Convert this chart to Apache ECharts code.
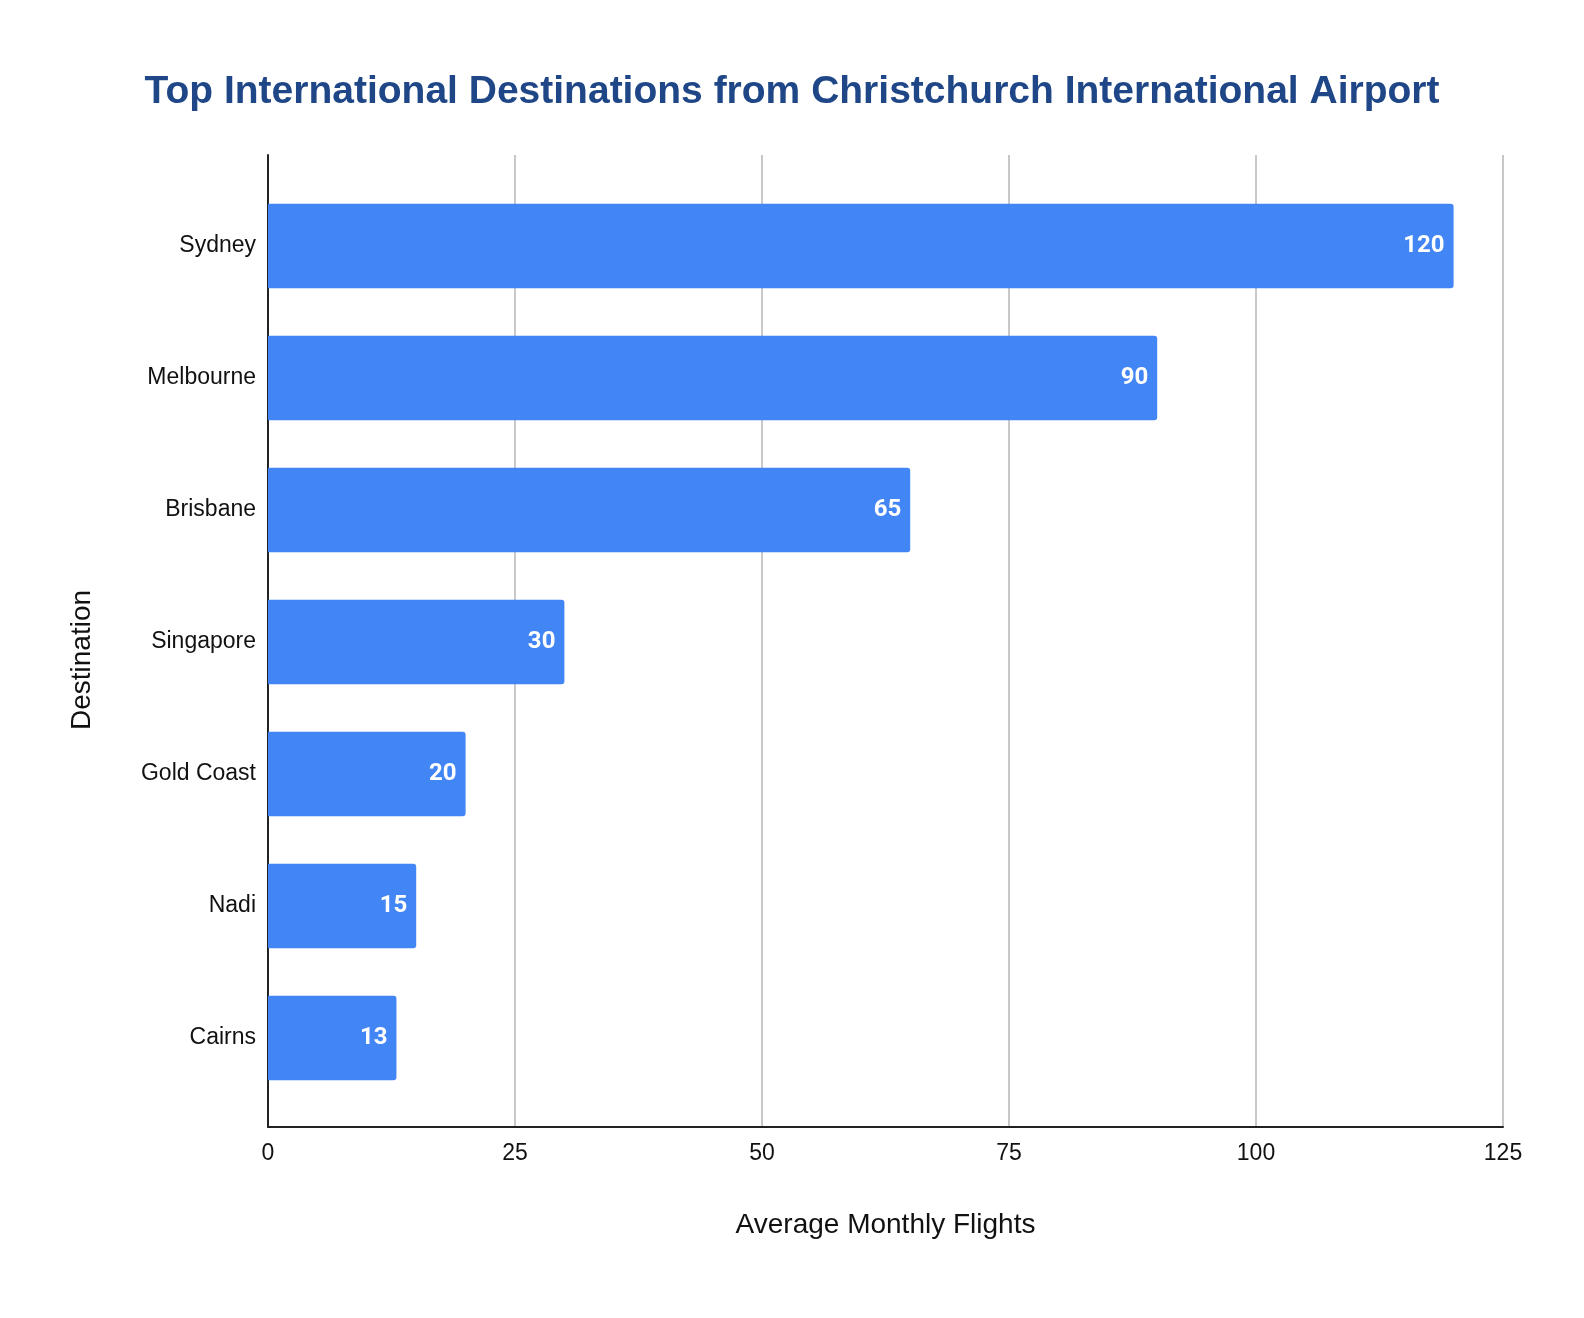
<!DOCTYPE html>
<html>
<head>
<meta charset="utf-8">
<script src="https://cdn.jsdelivr.net/npm/echarts@6/dist/echarts.min.js"></script>
<style>
html, body { margin: 0; padding: 0; background: #fff; overflow: hidden; }
#chart { width: 100vw; height: 100vh; }
</style>
</head>
<body>
<div id="chart"></div>
<script>
var destinations = ['Sydney', 'Melbourne', 'Brisbane', 'Singapore', 'Gold Coast', 'Nadi', 'Cairns'];
var flights = [120, 90, 65, 30, 20, 15, 13];
var xTicks = [0, 25, 50, 75, 100, 125];

var chart = echarts.init(document.getElementById('chart'));
var option = {
    backgroundColor: '#fff',
    title: {
        text: 'Top International Destinations from Christchurch International Airport',
        left: 'center',
        top: 68,
        textStyle: {
            fontFamily: 'Liberation Sans, Arial',
            fontWeight: 'bold',
            fontSize: 39,
            color: '#1F4788'
        }
    },
    grid: [
        { left: 268, right: 81, top: 155, bottom: 191 },
        { left: 268, right: 81, top: 180, bottom: 214 }
    ],
    xAxis: [
        {
            gridIndex: 0,
            type: 'value',
            min: xTicks[0],
            max: xTicks[xTicks.length - 1],
            interval: 25,
            name: 'Average Monthly Flights',
            nameLocation: 'middle',
            nameGap: 84,
            nameTextStyle: { fontFamily: 'Liberation Sans, Arial', fontSize: 28, color: '#111' },
            axisLine: { show: true, lineStyle: { color: '#222', width: 2 } },
            axisTick: { show: false },
            axisLabel: { fontFamily: 'Liberation Sans, Arial', fontSize: 23, color: '#111', margin: 15 },
            splitLine: { show: true, lineStyle: { color: '#c8c8c8', width: 2 } }
        },
        {
            gridIndex: 1,
            type: 'value',
            min: xTicks[0],
            max: xTicks[xTicks.length - 1],
            show: false
        }
    ],
    yAxis: [
        {
            gridIndex: 0,
            type: 'value',
            name: 'Destination',
            nameLocation: 'middle',
            nameGap: 172,
            nameTextStyle: { fontFamily: 'Liberation Sans, Arial', fontSize: 28, color: '#111', padding: [0, 38, 0, 0] },
            axisLine: { show: true, lineStyle: { color: '#222', width: 2 } },
            axisTick: { show: false },
            axisLabel: { show: false },
            splitLine: { show: false }
        },
        {
            gridIndex: 1,
            type: 'category',
            inverse: true,
            data: destinations,
            axisLine: { show: false },
            axisTick: { show: false },
            axisLabel: { fontFamily: 'Liberation Sans, Arial', fontSize: 23, color: '#111', margin: 12 }
        }
    ],
    series: [
        {
            type: 'bar',
            xAxisIndex: 1,
            yAxisIndex: 1,
            data: flights,
            barCategoryGap: '36%',
            itemStyle: { color: '#4285F4', borderRadius: [0, 3, 3, 0] },
            label: {
                show: true,
                position: 'insideRight',
                distance: 9,
                color: '#fff',
                fontFamily: 'Roboto',
                fontWeight: 'bold',
                fontSize: 24
            }
        }
    ]
};
chart.setOption(option);
</script>
</body>
</html>
